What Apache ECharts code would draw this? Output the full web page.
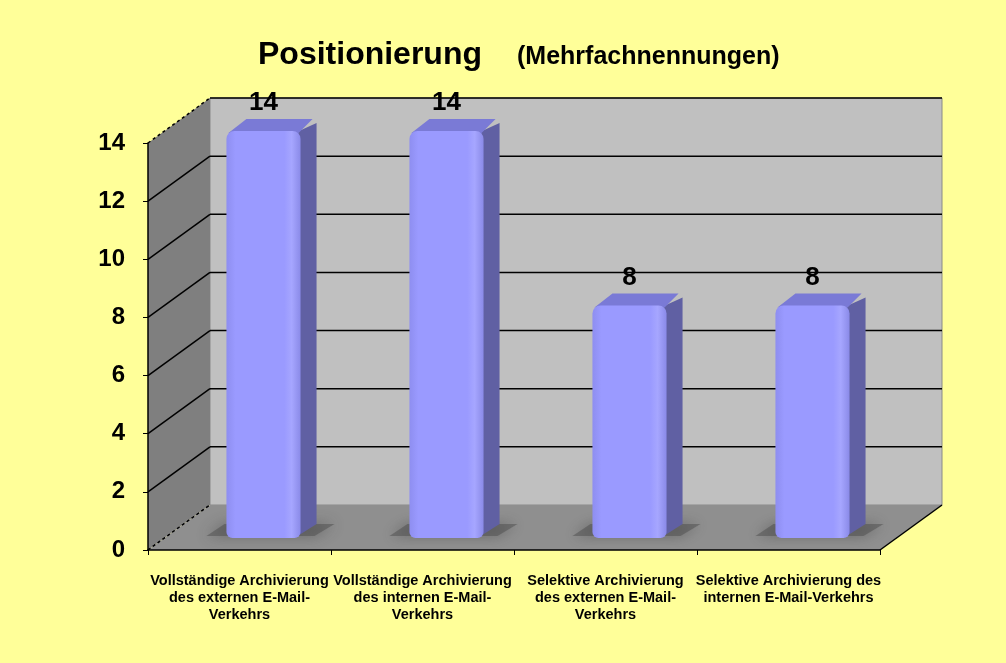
<!DOCTYPE html>
<html>
<head>
<meta charset="utf-8">
<script src="https://cdn.jsdelivr.net/npm/echarts@6/dist/echarts.min.js"></script>
<style>
  html, body { margin: 0; padding: 0; background: #FFFF99; }
  #chart { width: 1006px; height: 663px; }
</style>
</head>
<body>
<div id="chart"></div>
<script>
// Werte aus der Grafik
const categories = [
  'Vollständige Archivierung\ndes externen E-Mail-\nVerkehrs',
  'Vollständige Archivierung\ndes internen E-Mail-\nVerkehrs',
  'Selektive Archivierung\ndes externen E-Mail-\nVerkehrs',
  'Selektive Archivierung des\ninternen E-Mail-Verkehrs'
];
const values = [14, 14, 8, 8];
const yTicks = [0, 2, 4, 6, 8, 10, 12, 14];

// 3D-Tiefe der Wände / Balken (Pixel)
const DEPTH_X = 62, DEPTH_Y = -45;
const BAR_OFF_X = 24, BAR_OFF_Y = -12;
const BAR_DX = 16, BAR_DY = -12;

const chart = echarts.init(document.getElementById('chart'));

function renderWalls(params, api) {
  const cs = params.coordSys;
  const x0 = cs.x, x1 = cs.x + cs.width;
  const yBottom = api.coord([0, 0])[1];
  const yTop = api.coord([0, 14])[1];
  const children = [];
  // Rückwand
  children.push({
    type: 'rect',
    shape: { x: x0 + DEPTH_X, y: yTop + DEPTH_Y, width: cs.width, height: yBottom - yTop },
    style: { fill: '#C0C0C0', stroke: '#8a8a8a', lineWidth: 1 }
  });
  // Seitenwand
  children.push({
    type: 'polygon',
    shape: { points: [[x0, yBottom], [x0 + DEPTH_X, yBottom + DEPTH_Y], [x0 + DEPTH_X, yTop + DEPTH_Y], [x0, yTop]] },
    style: { fill: '#7f7f7f' }
  });
  // Gitterlinien
  yTicks.forEach(function (v) {
    const y = api.coord([0, v])[1];
    const edge = (v === 0 || v === 14);
    children.push({
      type: 'line',
      shape: { x1: x0, y1: y, x2: x0 + DEPTH_X, y2: y + DEPTH_Y },
      style: { stroke: '#000', lineWidth: 1.5, lineDash: edge ? [3, 3] : null }
    });
    if (v > 0) {
      children.push({
        type: 'line',
        shape: { x1: x0 + DEPTH_X, y1: y + DEPTH_Y, x2: x1 + DEPTH_X, y2: y + DEPTH_Y },
        style: { stroke: '#000', lineWidth: 1.5 }
      });
    }
  });
  // Boden
  children.push({
    type: 'polygon',
    shape: { points: [[x0, yBottom], [x1, yBottom], [x1 + DEPTH_X, yBottom + DEPTH_Y], [x0 + DEPTH_X, yBottom + DEPTH_Y]] },
    style: { fill: '#8f8f8f' }
  });
  children.push({
    type: 'line',
    shape: { x1: x0, y1: yBottom, x2: x0 + DEPTH_X, y2: yBottom + DEPTH_Y },
    style: { stroke: '#000', lineWidth: 1.2, lineDash: [3, 3] }
  });
  children.push({
    type: 'line',
    shape: { x1: x1, y1: yBottom, x2: x1 + DEPTH_X, y2: yBottom + DEPTH_Y },
    style: { stroke: '#000', lineWidth: 1.5 }
  });
  return { type: 'group', children: children };
}

function renderBar(params, api) {
  const idx = api.value(0);
  const val = api.value(1);
  const base = api.coord([idx, 0]);
  const top = api.coord([idx, val]);
  const w = api.size([1, 0])[0] * 0.405;
  const xl = base[0] - w / 2 + BAR_OFF_X;
  const xr = xl + w;
  const yb = base[1] + BAR_OFF_Y;
  const yt = top[1] + BAR_OFF_Y;
  return {
    type: 'group',
    children: [
      { // Schatten
        type: 'polygon',
        shape: { points: [[xl - 20, yb - 2], [xl - 2, yb - 14], [xr + 34, yb - 14], [xr + 14, yb - 2]] },
        style: { fill: 'rgba(70,70,70,0.45)', shadowBlur: 14, shadowColor: 'rgba(50,50,50,0.9)' }
      },
      { // Seite
        type: 'polygon',
        shape: { points: [[xr - 6, yt + 2], [xr + BAR_DX, yt + BAR_DY + 4], [xr + BAR_DX, yb + BAR_DY - 2], [xr - 6, yb]] },
        style: { fill: '#6060A3' }
      },
      { // Deckel
        type: 'polygon',
        shape: { points: [[xl + 2, yt + 2], [xl + BAR_DX + 4, yt + BAR_DY], [xr + BAR_DX - 4, yt + BAR_DY], [xr - 2, yt + 2]] },
        style: { fill: '#7a7ad6' }
      },
      { // Front
        type: 'rect',
        shape: { x: xl, y: yt, width: w, height: yb - yt, r: [8, 8, 6, 6] },
        style: {
          fill: new echarts.graphic.LinearGradient(0, 0, 1, 0, [
            { offset: 0, color: '#8e8ef0' },
            { offset: 0.12, color: '#9a9aff' },
            { offset: 0.78, color: '#9a9aff' },
            { offset: 0.88, color: '#a6a6ff' },
            { offset: 1, color: '#8a8ae8' }
          ])
        }
      },
      { // Wert
        type: 'text',
        x: xl + w / 2,
        y: yt + BAR_DY - 16,
        style: {
          text: String(val),
          fontSize: 26,
          fontWeight: 'bold',
          fontFamily: 'Liberation Sans, Arial, sans-serif',
          fill: '#000',
          align: 'center',
          verticalAlign: 'middle'
        }
      }
    ]
  };
}

chart.setOption({
  backgroundColor: '#FFFF99',
  animation: false,
  title: [{
    text: 'Positionierung',
    left: 253,
    top: 34,
    textStyle: { fontSize: 32, fontWeight: 'bold', color: '#000', fontFamily: 'Liberation Sans, Arial, sans-serif' }
  }, {
    text: '(Mehrfachnennungen)',
    left: 512,
    top: 40,
    textStyle: { fontSize: 25, fontWeight: 'bold', color: '#000', fontFamily: 'Liberation Sans, Arial, sans-serif' }
  }],
  grid: { left: 148, right: 126, top: 143, bottom: 113 },
  xAxis: {
    type: 'category',
    data: categories,
    axisLine: { show: true, lineStyle: { color: '#000', width: 1.5 } },
    axisTick: { show: true, length: 5, lineStyle: { color: '#000' } },
    axisLabel: {
      interval: 0,
      margin: 22,
      color: '#000',
      fontSize: 14.5,
      fontWeight: 'bold',
      lineHeight: 17,
      fontFamily: 'Liberation Sans, Arial, sans-serif'
    },
    splitLine: { show: false },
    z: 5
  },
  yAxis: {
    type: 'value',
    min: 0,
    max: 14,
    interval: 2,
    axisLine: { show: true, lineStyle: { color: '#000', width: 1.5 } },
    axisTick: { show: true, length: 5, lineStyle: { color: '#000' } },
    axisLabel: {
      margin: 23,
      color: '#000',
      fontSize: 24,
      fontWeight: 'bold',
      fontFamily: 'Liberation Sans, Arial, sans-serif'
    },
    splitLine: { show: false },
    z: 5
  },
  series: [{
    type: 'custom',
    name: 'walls',
    renderItem: renderWalls,
    data: [[0, 0]],
    silent: true,
    z: 1
  }, {
    type: 'custom',
    name: 'Positionierung',
    renderItem: renderBar,
    data: values.map(function (v, i) { return [i, v]; }),
    z: 2
  }]
});
</script>
</body>
</html>
